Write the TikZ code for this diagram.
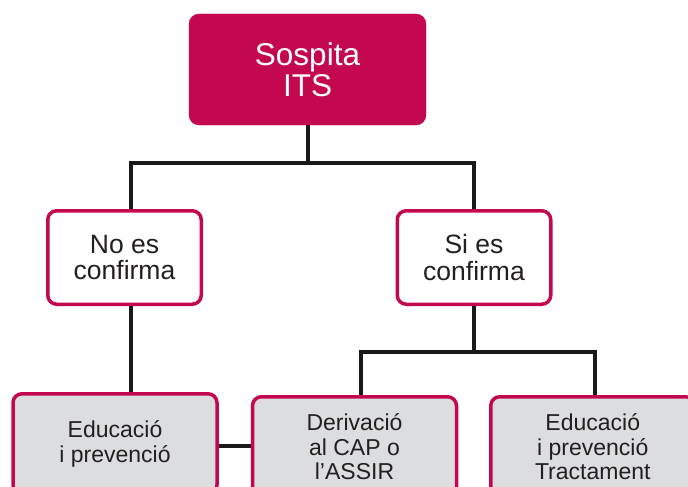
\documentclass[tikz,border=0pt]{standalone}
\usepackage{fontspec}
\setmainfont{Liberation Sans}
\usetikzlibrary{backgrounds}
\definecolor{crim}{HTML}{C4084F}
\definecolor{boxgray}{HTML}{DCDDDF}
\definecolor{txt}{HTML}{231F20}
\begin{document}
\begin{tikzpicture}[x=1pt,y=-1pt,
  conn/.style={line width=4pt,draw=black!90},
  topbox/.style={rectangle,rounded corners=10pt,fill=crim,draw=crim,text=white,
    minimum width=237pt,minimum height=111pt,inner sep=0pt,outer sep=0pt,align=center,
    font=\fontsize{31.5}{31}\selectfont},
  midbox/.style={rectangle,rounded corners=9pt,fill=white,draw=crim,line width=3.5pt,text=txt,
    minimum width=153.5pt,minimum height=93.5pt,inner sep=0pt,outer sep=0pt,align=center,
    font=\fontsize{26.5}{26.5}\selectfont},
  botbox/.style={rectangle,rounded corners=9pt,fill=boxgray,draw=crim,line width=3.5pt,text=txt,
    minimum width=204pt,minimum height=100pt,inner sep=0pt,outer sep=0pt,align=center,
    font=\fontsize{23}{24.5}\selectfont}]
\useasboundingbox (0,0) rectangle (688,487);
\clip (0,0) rectangle (688,487);
\node[topbox] (top) at (307.5,69.5) {Sospita\\ITS};
\node[midbox] (no) at (124.5,257.5) {No es\\confirma};
\node[midbox] (si) at (474,257.5) {Si es\\confirma};
\node[botbox] (ed1) at (115,443.75) {Educació\\i prevenció};
\node[botbox] (der) at (354.5,446.75) {Derivació\\al CAP o\\l’ASSIR};
\node[botbox] (ed2) at (592.75,446.75) {Educació\\i prevenció\\Tractament};
\coordinate (h1) at (307.5,163);
\coordinate (hL) at (131,163);
\coordinate (hR) at (474,163);
\coordinate (h2) at (474,352);
\coordinate (h2L) at (361,352);
\coordinate (h2R) at (595,352);
\coordinate (m) at (235,446);
\begin{scope}[on background layer]
\draw[conn] (top.south) -- (h1);
\draw[conn] (hL |- no.north) -- (hL) -- (hR) -- (si.north);
\draw[conn] (hL |- no.south) -- (hL |- ed1.north);
\draw[conn] (si.south) -- (h2);
\draw[conn] (h2L |- der.north) -- (h2L) -- (h2R) -- (h2R |- ed2.north);
\draw[conn] (ed1.east |- m) -- (der.west |- m);
\end{scope}
\end{tikzpicture}
\end{document}
